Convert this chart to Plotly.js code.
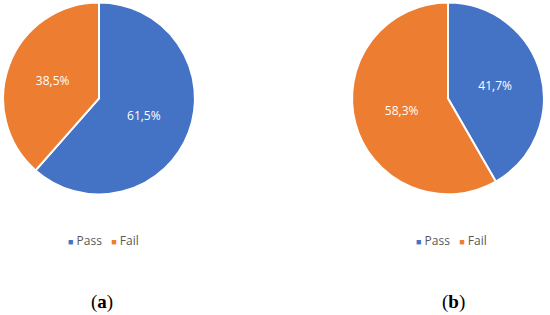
<!DOCTYPE html>
<html>
<head>
<meta charset="utf-8">
<script src="https://cdn.plot.ly/plotly-3.0.1.min.js"></script>
<style>html,body{margin:0;padding:0;background:#fff;}#chart{width:550px;height:315px;}</style>
</head>
<body>
<div id="chart"></div>
<script>
const categories = ["Pass", "Fail"];
const valuesA = [61.5, 38.5];
const valuesB = [41.7, 58.3];
const panelLabels = ["(<b>a</b>)", "(<b>b</b>)"];
const colors = ["#4472C4", "#ED7D31"];

function fmt(vals) {
  return vals.map(v => v.toFixed(1).replace('.', ',') + '%');
}

function pieTrace(vals, domainX) {
  return {
    type: 'pie',
    labels: categories,
    values: vals,
    text: fmt(vals),
    textinfo: 'text',
    textposition: 'inside',
    insidetextorientation: 'horizontal',
    textfont: {family: 'Open Sans, sans-serif', size: 12, color: '#ffffff'},
    sort: false,
    direction: 'clockwise',
    rotation: 0,
    marker: {colors: colors, line: {color: '#ffffff', width: 2}},
    domain: {x: domainX, y: [0.383, 0.992]},
    showlegend: false,
    hoverinfo: 'label+percent'
  };
}

const data = [
  pieTrace(valuesA, [3/550, 195/550]),
  pieTrace(valuesB, [352/550, 544/550])
];

// legend drawn as text: coloured squares + category names
const legendText = categories.map((c, i) =>
  '<span style="color:' + colors[i] + ';font-size:9px">■</span>&nbsp;' + c
).join('&nbsp;&nbsp;&nbsp;');

function legendAnn(x) {
  return {text: legendText, x: x, y: 0.238, xref: 'paper', yref: 'paper', showarrow: false,
          xanchor: 'center', yanchor: 'middle',
          font: {family: 'Open Sans, sans-serif', size: 12, color: '#595959'}};
}
function panelAnn(t, x) {
  return {text: t, x: x, y: 0.041, xref: 'paper', yref: 'paper', showarrow: false,
          xanchor: 'center', yanchor: 'middle',
          font: {family: 'Liberation Serif, serif', size: 19, color: '#000'}};
}

const layout = {
  width: 550,
  height: 315,
  margin: {l: 0, r: 0, t: 0, b: 0},
  paper_bgcolor: '#ffffff',
  showlegend: false,
  annotations: [
    legendAnn(103/550),
    legendAnn(451/550),
    panelAnn(panelLabels[0], 102/550),
    panelAnn(panelLabels[1], 453/550)
  ]
};

Plotly.newPlot('chart', data, layout, {displayModeBar: false, staticPlot: true});
</script>
</body>
</html>
